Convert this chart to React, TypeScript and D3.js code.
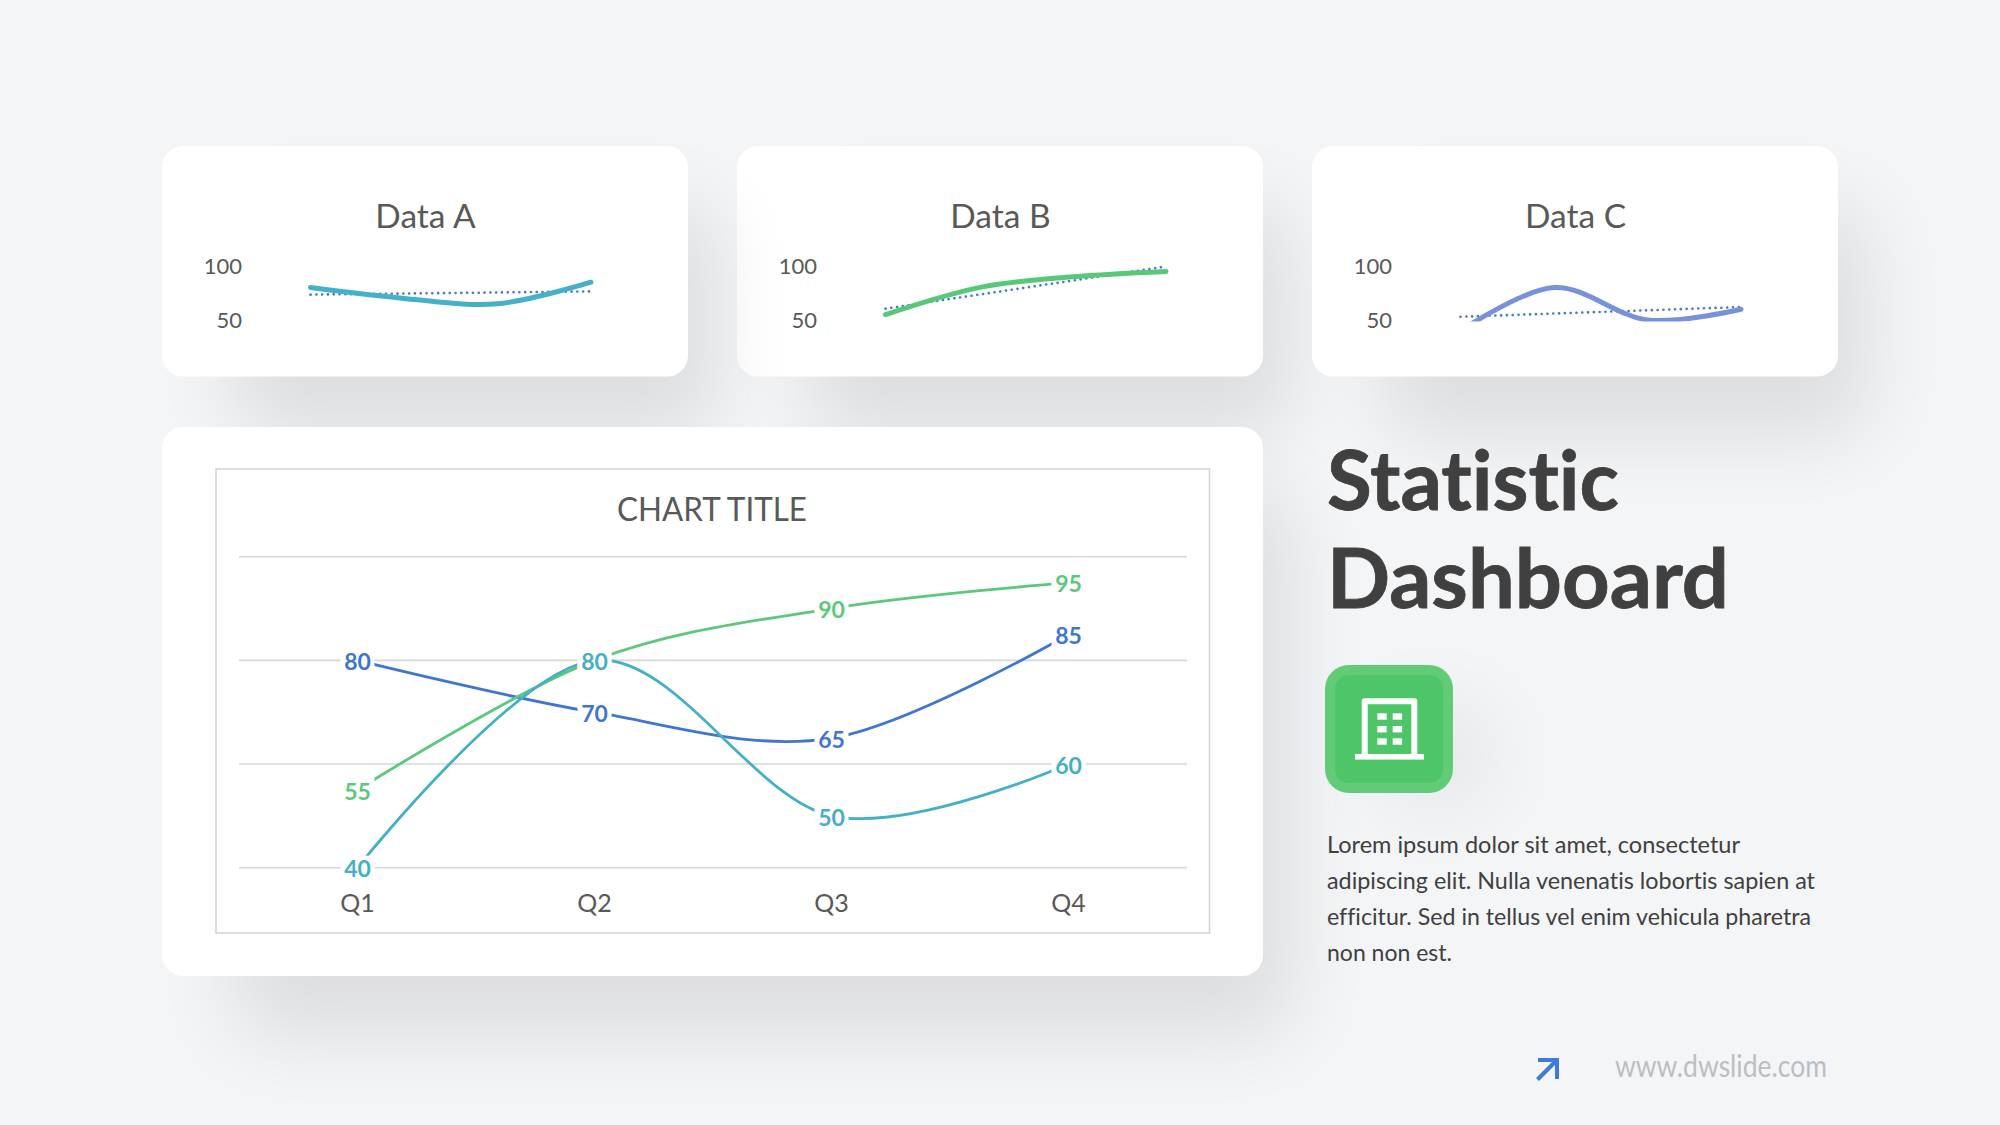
import * as d3 from "d3";

const quarters = ["Q1", "Q2", "Q3", "Q4"];
const blueValues = [80, 70, 65, 85];
const greenValues = [55, 80, 90, 95];
const tealValues = [40, 80, 50, 60];
const gridValues = [100, 80, 60, 40];

const sparkTicks = [100, 50];
const sparkNames = ["Data A", "Data B", "Data C"];
const sparkValues = [blueValues, greenValues, tealValues];
const sparkTrends = [
  [73.5, 74.5, 75.5, 76.5],
  [60.5, 73.5, 86.5, 99.5],
  [53, 56, 59, 62],
];
const sparkColors = ["#44b0ca", "#58c878", "#7892da"];
const sparkLefts = [162, 737, 1312];

const bodyLines = [
  { text: "Lorem ipsum dolor sit amet, consectetur", w: 413 },
  { text: "adipiscing elit. Nulla venenatis lobortis sapien at", w: 488 },
  { text: "efficitur. Sed in tellus vel enim vehicula pharetra", w: 484 },
  { text: "non non est.", w: 125 },
];

const FONT = "Lato, 'Open Sans', sans-serif";
const smooth = d3.curveCardinal.tension(0);
const noLig = { fontVariantLigatures: "none" } as const;

function Shadow({ x, y, w, h }: { x: number; y: number; w: number; h: number }) {
  return <rect x={x + 70} y={y + 60} width={w - 40} height={h} rx={30} fill="#000" opacity={0.09} filter="url(#soft)" />;
}

function SparkCard({ i }: { i: number }) {
  const left = sparkLefts[i];
  const x = d3.scalePoint<string>().domain(quarters).range([left + 148.5, left + 429]);
  const y = d3.scaleLinear().domain([50, 100]).range([320, 266]);
  const line = d3
    .line<number>()
    .x((_, k) => x(quarters[k])!)
    .y((d) => y(d))
    .curve(smooth);
  const straight = d3
    .line<number>()
    .x((_, k) => x(quarters[k])!)
    .y((d) => y(d));
  return (
    <g>
      <Shadow x={left} y={146} w={526} h={230.5} />
      <rect x={left} y={146} width={526} height={230.5} rx={21} fill="#fff" />
      <text x={left + 263.5} y={228} textAnchor="middle" fontSize={33.5} fill="#595959" fontFamily={FONT}>
        {sparkNames[i]}
      </text>
      {sparkTicks.map((t) => (
        <text key={t} x={left + 80} y={y(t)} dy="0.36em" textAnchor="end" fontSize={22} fill="#595959" fontFamily={FONT}>
          {t}
        </text>
      ))}
      <clipPath id={`spark-${i}`}>
        <rect x={left + 100} y={240} width={400} height={81.5} />
      </clipPath>
      <g clipPath={`url(#spark-${i})`}>
        <path
          d={straight(sparkTrends[i])!}
          fill="none"
          stroke="#4a78cf"
          strokeWidth={2.6}
          strokeDasharray="0.1 5.7"
          strokeLinecap="round"
        />
        <path d={line(sparkValues[i])!} fill="none" stroke={sparkColors[i]} strokeWidth={5} strokeLinecap="round" />
      </g>
    </g>
  );
}

function MainChart() {
  const band = d3.scaleBand<string>().domain(quarters).range([239, 1187]);
  const xAt = (q: string) => band(q)! + band.bandwidth() / 2;
  const y = d3.scaleLinear().domain([40, 100]).range([867.7, 556.7]);
  const series = [
    { values: blueValues, color: "#3f76d2" },
    { values: greenValues, color: "#5dc87b" },
    { values: tealValues, color: "#43b0c6" },
  ];
  const line = d3
    .line<number>()
    .x((_, k) => xAt(quarters[k]))
    .y((d) => y(d))
    .curve(smooth);
  return (
    <g fontFamily={FONT}>
      <rect x={216} y={469} width={993.5} height={464} fill="#fff" stroke="#d4d5d6" strokeWidth={1.6} />
      <text x={712} y={520.5} textAnchor="middle" fontSize={32} fill="#595959" textLength={190} lengthAdjust="spacingAndGlyphs">
        CHART TITLE
      </text>
      {gridValues.map((g) => (
        <line key={g} x1={239} x2={1187} y1={y(g)} y2={y(g)} stroke="#d6d7d8" strokeWidth={1.6} />
      ))}
      {series.map((s) => (
        <path key={s.color} d={line(s.values)!} fill="none" stroke={s.color} strokeWidth={2.8} />
      ))}
      {series.map((s) =>
        s.values.map((v, k) => (
          <g key={s.color + k}>
            <rect x={xAt(quarters[k]) - 17} y={y(v) - 12} width={34} height={24} fill="#fff" />
            <text x={xAt(quarters[k])} y={y(v)} dy="0.42em" textAnchor="middle" fontSize={23} fontWeight={700} fill={s.color}>
              {v}
            </text>
          </g>
        ))
      )}
      {quarters.map((q) => (
        <text key={q} x={xAt(q)} y={911.5} textAnchor="middle" fontSize={25} fill="#595959">
          {q}
        </text>
      ))}
    </g>
  );
}

function Icon() {
  const cols = [1377.3, 1392.7];
  const rows = [713.3, 726, 738.3];
  return (
    <g>
      <rect x={1375} y={700} width={120} height={110} rx={30} fill="#000" opacity={0.05} filter="url(#soft)" />
      <rect x={1325} y={665} width={128} height={128} rx={24} fill="#62cb78" />
      <rect x={1335} y={675} width={108} height={108} rx={14} fill="#4fc569" />
      <path d="M1364.7 756V701.3H1414.3V756" fill="none" stroke="#fff" strokeWidth={6} strokeLinejoin="round" />
      <rect x={1355} y={754} width={69} height={5.6} fill="#fff" />
      {cols.map((cx) =>
        rows.map((cy) => <rect key={`${cx}-${cy}`} x={cx} y={cy} width={9.4} height={6.4} fill="#fff" />)
      )}
    </g>
  );
}

export default function App() {
  return (
    <>
      <style>{"body{margin:0}"}</style>
      <svg width={2000} height={1125} viewBox="0 0 2000 1125" style={{ display: "block" }}>
        <defs>
          <filter id="soft" x="-40%" y="-80%" width="180%" height="260%">
            <feGaussianBlur stdDeviation={40} />
          </filter>
        </defs>
        <rect width={2000} height={1125} fill="#f4f5f7" />

        {/* draw order matters: Data A's shadow falls over the left of Data B */}
        <SparkCard i={1} />
        <SparkCard i={2} />
        <SparkCard i={0} />

        <Shadow x={162} y={427} w={1101} h={549} />
        <rect x={162} y={427} width={1101} height={549} rx={21} fill="#fff" />
        <MainChart />

        <g fontFamily={FONT} fontWeight={700} fontSize={82} fill="#404040" stroke="#404040" strokeWidth={0.8} style={noLig}>
          <text x={1327} y={510} textLength={292} lengthAdjust="spacingAndGlyphs">
            Statistic
          </text>
          <text x={1327} y={608} textLength={402} lengthAdjust="spacingAndGlyphs">
            Dashboard
          </text>
        </g>

        <Icon />

        <g fontFamily={FONT} fontSize={23} fill="#404040" style={noLig}>
          {bodyLines.map((l, i) => (
            <text key={l.text} x={1327} y={853 + i * 36} textLength={l.w} lengthAdjust="spacingAndGlyphs">
              {l.text}
            </text>
          ))}
        </g>

        <g fill="none" stroke="#3f7bdc" strokeWidth={4}>
          <path d="M1538 1060H1557V1079" />
          <path d="M1556.5 1060.5L1537.5 1079.5" />
        </g>
        <text x={1615} y={1077} fontFamily={FONT} fontSize={31} fill="#bcbfc2" textLength={212} lengthAdjust="spacingAndGlyphs">
          www.dwslide.com
        </text>
      </svg>
    </>
  );
}
